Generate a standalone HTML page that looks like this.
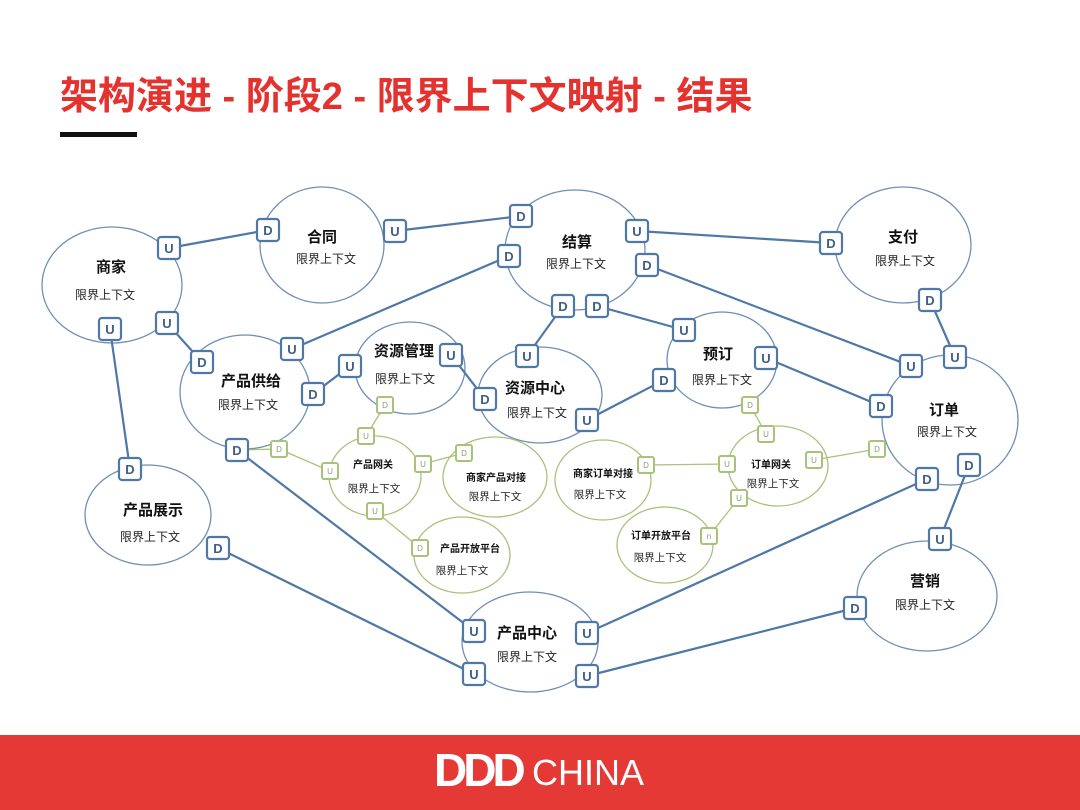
<!DOCTYPE html>
<html><head><meta charset="utf-8"><style>
html,body{margin:0;padding:0;background:#fff;}
svg{display:block;font-family:"Liberation Sans","Noto Sans CJK SC",sans-serif;}
.c{fill:#fff;stroke:#6f8fb3;stroke-width:1.3}
.g{fill:#fff;stroke:#a9c27a;stroke-width:1.3}
.l{stroke:#4f78a6;stroke-width:2.2}
.lg{stroke:#a9c27a;stroke-width:1.3}
.t{font-size:15px;font-weight:bold;fill:#111;text-anchor:middle}
.s{font-size:12px;fill:#222;text-anchor:middle}
.tg{font-size:10px;font-weight:bold;fill:#111;text-anchor:middle}
.sg{font-size:10.5px;fill:#222;text-anchor:middle}
.b rect{fill:#fff;stroke:#4f78a6;stroke-width:2.2}
.b text{font-size:13px;fill:#3d5f8a;text-anchor:middle;font-weight:bold}
.bg rect{fill:#fff;stroke:#a9c27a;stroke-width:2}
.bg text{font-size:8px;fill:#8a9a70;text-anchor:middle}
</style></head><body>
<svg width="1080" height="810" viewBox="0 0 1080 810">
<text x="60" y="109" font-size="38" font-weight="bold" fill="#e4322f">架构演进 - 阶段2 - 限界上下文映射 - 结果</text>
<rect x="60" y="132" width="77" height="5" fill="#111"/>

<!-- clouds -->
<ellipse class="c" cx="112" cy="285" rx="70" ry="58"/>
<ellipse class="c" cx="322" cy="245" rx="62" ry="58"/>
<ellipse class="c" cx="575" cy="250" rx="70" ry="60"/>
<ellipse class="c" cx="903" cy="245" rx="68" ry="58"/>
<ellipse class="c" cx="245" cy="392" rx="65" ry="57"/>
<ellipse class="c" cx="410" cy="368" rx="55" ry="46"/>
<ellipse class="c" cx="540" cy="395" rx="62" ry="48"/>
<ellipse class="c" cx="722" cy="360" rx="55" ry="48"/>
<ellipse class="c" cx="950" cy="420" rx="68" ry="65"/>
<ellipse class="c" cx="148" cy="515" rx="63" ry="50"/>
<ellipse class="c" cx="927" cy="596" rx="70" ry="55"/>
<ellipse class="c" cx="530" cy="642" rx="68" ry="50"/>
<ellipse class="g" cx="375" cy="476" rx="46" ry="40"/>
<ellipse class="g" cx="495" cy="477" rx="52" ry="40"/>
<ellipse class="g" cx="462" cy="555" rx="48" ry="38"/>
<ellipse class="g" cx="603" cy="480" rx="48" ry="40"/>
<ellipse class="g" cx="778" cy="466" rx="50" ry="40"/>
<ellipse class="g" cx="665" cy="545" rx="48" ry="38"/>

<!-- lines -->
<g class="l">
<line x1="169" y1="248" x2="268" y2="230"/>
<line x1="395" y1="231" x2="521" y2="216"/>
<line x1="637" y1="231" x2="831" y2="243"/>
<line x1="509" y1="256" x2="292" y2="349"/>
<line x1="647" y1="265" x2="911" y2="366"/>
<line x1="930" y1="300" x2="955" y2="357"/>
<line x1="167" y1="323" x2="202" y2="362"/>
<line x1="110" y1="329" x2="130" y2="469"/>
<line x1="313" y1="394" x2="350" y2="366"/>
<line x1="451" y1="355" x2="485" y2="399"/>
<line x1="527" y1="356" x2="563" y2="306"/>
<line x1="597" y1="306" x2="684" y2="330"/>
<line x1="587" y1="420" x2="664" y2="380"/>
<line x1="766" y1="358" x2="881" y2="406"/>
<line x1="237" y1="450" x2="474" y2="631"/>
<line x1="218" y1="548" x2="474" y2="674"/>
<line x1="587" y1="633" x2="927" y2="479"/>
<line x1="587" y1="676" x2="855" y2="608"/>
<line x1="940" y1="539" x2="969" y2="465"/>
</g>
<g class="lg">
<line x1="385" y1="405" x2="366" y2="436"/>
<line x1="237" y1="450" x2="279" y2="449"/>
<line x1="279" y1="449" x2="330" y2="471"/>
<line x1="423" y1="464" x2="464" y2="453"/>
<line x1="375" y1="511" x2="420" y2="548"/>
<line x1="646" y1="465" x2="727" y2="464"/>
<line x1="766" y1="434" x2="750" y2="405"/>
<line x1="814" y1="460" x2="877" y2="449"/>
<line x1="739" y1="498" x2="709" y2="536"/>
</g>

<!-- labels -->
<text class="t" x="111" y="272">商家</text><text class="s" x="105" y="299">限界上下文</text>
<text class="t" x="322" y="242">合同</text><text class="s" x="326" y="263">限界上下文</text>
<text class="t" x="577" y="247">结算</text><text class="s" x="576" y="268">限界上下文</text>
<text class="t" x="903" y="242">支付</text><text class="s" x="905" y="265">限界上下文</text>
<text class="t" x="251" y="386">产品供给</text><text class="s" x="248" y="409">限界上下文</text>
<text class="t" x="404" y="356">资源管理</text><text class="s" x="405" y="383">限界上下文</text>
<text class="t" x="535" y="393">资源中心</text><text class="s" x="537" y="417">限界上下文</text>
<text class="t" x="718" y="359">预订</text><text class="s" x="722" y="384">限界上下文</text>
<text class="t" x="944" y="415">订单</text><text class="s" x="947" y="436">限界上下文</text>
<text class="t" x="153" y="515">产品展示</text><text class="s" x="150" y="541">限界上下文</text>
<text class="t" x="925" y="586">营销</text><text class="s" x="925" y="609">限界上下文</text>
<text class="t" x="527" y="638">产品中心</text><text class="s" x="527" y="661">限界上下文</text>
<text class="tg" x="373" y="468">产品网关</text><text class="sg" x="374" y="492">限界上下文</text>
<text class="tg" x="496" y="481">商家产品对接</text><text class="sg" x="495" y="500">限界上下文</text>
<text class="tg" x="470" y="552">产品开放平台</text><text class="sg" x="462" y="574">限界上下文</text>
<text class="tg" x="603" y="477">商家订单对接</text><text class="sg" x="600" y="498">限界上下文</text>
<text class="tg" x="771" y="468">订单网关</text><text class="sg" x="773" y="487">限界上下文</text>
<text class="tg" x="661" y="539">订单开放平台</text><text class="sg" x="660" y="561">限界上下文</text>

<!-- blue badges -->
<g class="b">
<rect x="158" y="237" width="22" height="22" rx="3"/><text x="169" y="253">U</text>
<rect x="257" y="219" width="22" height="22" rx="3"/><text x="268" y="235">D</text>
<rect x="384" y="220" width="22" height="22" rx="3"/><text x="395" y="236">U</text>
<rect x="510" y="205" width="22" height="22" rx="3"/><text x="521" y="221">D</text>
<rect x="498" y="245" width="22" height="22" rx="3"/><text x="509" y="261">D</text>
<rect x="626" y="220" width="22" height="22" rx="3"/><text x="637" y="236">U</text>
<rect x="636" y="254" width="22" height="22" rx="3"/><text x="647" y="270">D</text>
<rect x="820" y="232" width="22" height="22" rx="3"/><text x="831" y="248">D</text>
<rect x="919" y="289" width="22" height="22" rx="3"/><text x="930" y="305">D</text>
<rect x="944" y="346" width="22" height="22" rx="3"/><text x="955" y="362">U</text>
<rect x="900" y="355" width="22" height="22" rx="3"/><text x="911" y="371">U</text>
<rect x="870" y="395" width="22" height="22" rx="3"/><text x="881" y="411">D</text>
<rect x="916" y="468" width="22" height="22" rx="3"/><text x="927" y="484">D</text>
<rect x="958" y="454" width="22" height="22" rx="3"/><text x="969" y="470">D</text>
<rect x="929" y="528" width="22" height="22" rx="3"/><text x="940" y="544">U</text>
<rect x="844" y="597" width="22" height="22" rx="3"/><text x="855" y="613">D</text>
<rect x="156" y="312" width="22" height="22" rx="3"/><text x="167" y="328">U</text>
<rect x="99" y="318" width="22" height="22" rx="3"/><text x="110" y="334">U</text>
<rect x="191" y="351" width="22" height="22" rx="3"/><text x="202" y="367">D</text>
<rect x="281" y="338" width="22" height="22" rx="3"/><text x="292" y="354">U</text>
<rect x="302" y="383" width="22" height="22" rx="3"/><text x="313" y="399">D</text>
<rect x="339" y="355" width="22" height="22" rx="3"/><text x="350" y="371">U</text>
<rect x="440" y="344" width="22" height="22" rx="3"/><text x="451" y="360">U</text>
<rect x="474" y="388" width="22" height="22" rx="3"/><text x="485" y="404">D</text>
<rect x="516" y="345" width="22" height="22" rx="3"/><text x="527" y="361">U</text>
<rect x="552" y="295" width="22" height="22" rx="3"/><text x="563" y="311">D</text>
<rect x="586" y="295" width="22" height="22" rx="3"/><text x="597" y="311">D</text>
<rect x="673" y="319" width="22" height="22" rx="3"/><text x="684" y="335">U</text>
<rect x="755" y="347" width="22" height="22" rx="3"/><text x="766" y="363">U</text>
<rect x="653" y="369" width="22" height="22" rx="3"/><text x="664" y="385">D</text>
<rect x="576" y="409" width="22" height="22" rx="3"/><text x="587" y="425">U</text>
<rect x="226" y="439" width="22" height="22" rx="3"/><text x="237" y="455">D</text>
<rect x="119" y="458" width="22" height="22" rx="3"/><text x="130" y="474">D</text>
<rect x="207" y="537" width="22" height="22" rx="3"/><text x="218" y="553">D</text>
<rect x="463" y="620" width="22" height="22" rx="3"/><text x="474" y="636">U</text>
<rect x="463" y="663" width="22" height="22" rx="3"/><text x="474" y="679">U</text>
<rect x="576" y="622" width="22" height="22" rx="3"/><text x="587" y="638">U</text>
<rect x="576" y="665" width="22" height="22" rx="3"/><text x="587" y="681">U</text>
</g>
<!-- green badges -->
<g class="bg">
<rect x="377" y="397" width="16" height="16" rx="2"/><text x="385" y="408">D</text>
<rect x="358" y="428" width="16" height="16" rx="2"/><text x="366" y="439">U</text>
<rect x="271" y="441" width="16" height="16" rx="2"/><text x="279" y="452">D</text>
<rect x="322" y="463" width="16" height="16" rx="2"/><text x="330" y="474">U</text>
<rect x="415" y="456" width="16" height="16" rx="2"/><text x="423" y="467">U</text>
<rect x="456" y="445" width="16" height="16" rx="2"/><text x="464" y="456">D</text>
<rect x="367" y="503" width="16" height="16" rx="2"/><text x="375" y="514">U</text>
<rect x="412" y="540" width="16" height="16" rx="2"/><text x="420" y="551">D</text>
<rect x="638" y="457" width="16" height="16" rx="2"/><text x="646" y="468">D</text>
<rect x="719" y="456" width="16" height="16" rx="2"/><text x="727" y="467">U</text>
<rect x="758" y="426" width="16" height="16" rx="2"/><text x="766" y="437">U</text>
<rect x="742" y="397" width="16" height="16" rx="2"/><text x="750" y="408">D</text>
<rect x="806" y="452" width="16" height="16" rx="2"/><text x="814" y="463">U</text>
<rect x="869" y="441" width="16" height="16" rx="2"/><text x="877" y="452">D</text>
<rect x="731" y="490" width="16" height="16" rx="2"/><text x="739" y="501">U</text>
<rect x="701" y="528" width="16" height="16" rx="2"/><text x="709" y="539">n</text>
</g>

<!-- footer -->
<rect x="0" y="735" width="1080" height="75" fill="#e53935"/>
<text x="434" y="786" font-size="46" font-weight="bold" fill="#fff" letter-spacing="-4">DDD</text>
<text x="532" y="785" font-size="36" fill="#fff">CHINA</text>
</svg>
</body></html>
